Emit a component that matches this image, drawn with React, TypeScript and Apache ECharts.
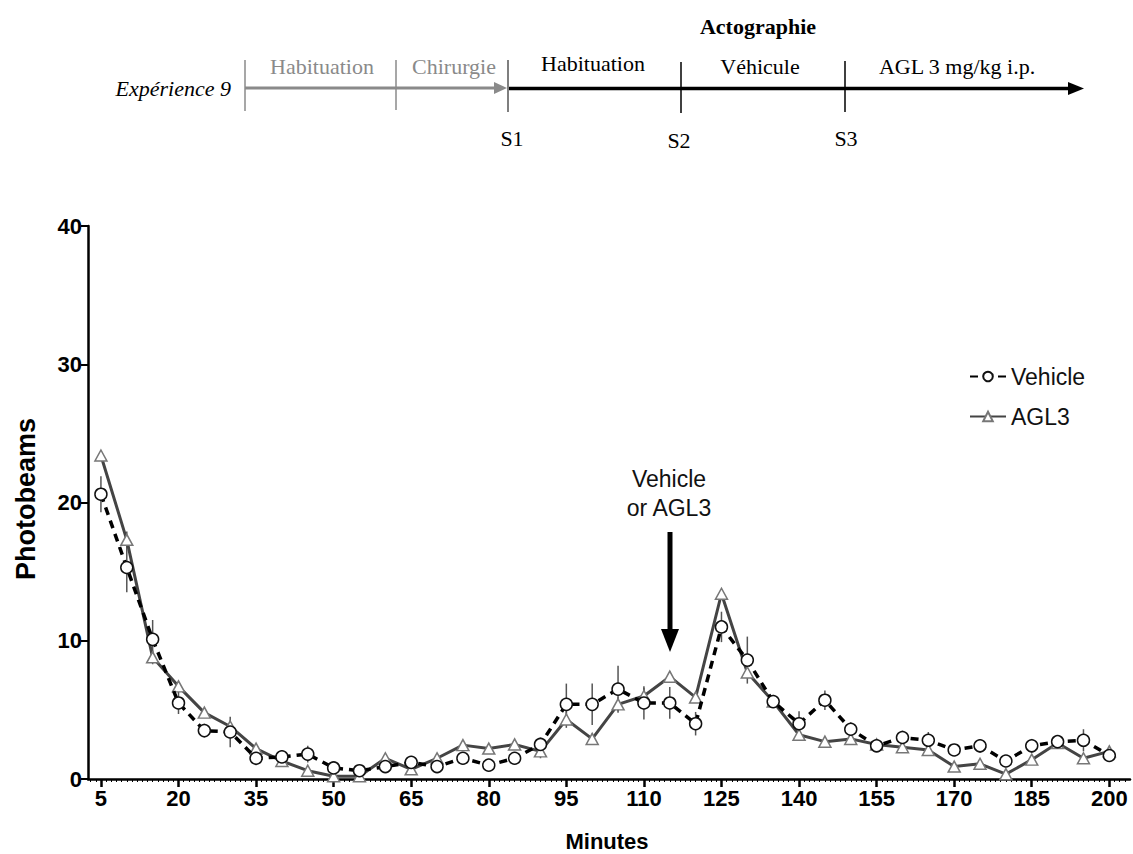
import React, { useEffect, useRef } from "react";
import * as echarts from "echarts";

const minutes = [5, 10, 15, 20, 25, 30, 35, 40, 45, 50, 55, 60, 65, 70, 75, 80, 85, 90, 95, 100, 105, 110, 115, 120, 125, 130, 135, 140, 145, 150, 155, 160, 165, 170, 175, 180, 185, 190, 195, 200];
const vehicle = [20.6, 15.3, 10.1, 5.5, 3.5, 3.4, 1.5, 1.6, 1.8, 0.8, 0.6, 0.9, 1.2, 0.9, 1.5, 1.0, 1.5, 2.5, 5.4, 5.4, 6.5, 5.5, 5.5, 4.0, 11.0, 8.6, 5.6, 4.0, 5.7, 3.6, 2.4, 3.0, 2.8, 2.1, 2.4, 1.3, 2.4, 2.7, 2.8, 1.7];
const vehicleSem = [1.3, 1.8, 1.4, 0.8, 0.5, 1.1, 0.5, 0.5, 0.6, 0.4, 0.3, 0.3, 0.4, 0.3, 0.4, 0.3, 0.3, 0.5, 1.5, 1.5, 1.7, 1.2, 1.15, 0.85, 1.1, 1.7, 0.4, 0.9, 0.7, 0.5, 0.3, 0.5, 0.6, 0.3, 0.5, 0.4, 0.5, 0.3, 0.8, 0.3];
const agl3 = [23.4, 17.3, 8.8, 6.7, 4.8, 3.8, 2.2, 1.3, 0.6, 0.2, 0.2, 1.5, 0.7, 1.5, 2.45, 2.2, 2.5, 2.0, 4.3, 2.9, 5.4, 6.0, 7.4, 5.9, 13.4, 7.7, 5.6, 3.2, 2.7, 2.9, 2.5, 2.3, 2.1, 0.9, 1.1, 0.35, 1.4, 2.6, 1.5, 2.0];
const agl3Sem = [0.3, 0.6, 0.5, 0.3, 0.3, 0.3, 0.3, 0.2, 0.2, 0.1, 0.1, 0.3, 0.2, 0.3, 0.3, 0.3, 0.3, 0.5, 0.6, 0.4, 0.5, 0.6, 0.4, 0.4, 0.3, 0.4, 0.3, 0.3, 0.3, 0.3, 0.3, 0.3, 0.3, 0.2, 0.2, 0.1, 0.3, 0.3, 0.3, 0.3];
const xTickLabels = [5, 20, 35, 50, 65, 80, 95, 110, 125, 140, 155, 170, 185, 200];
const seriesNames = ["Vehicle", "AGL3"];

const SANS = "'Liberation Sans', Arial, sans-serif";
const SERIF = "'Liberation Serif', 'Times New Roman', serif";
const GRAY = "#8a8a8a";

export default function App() {
  const ref = useRef<HTMLDivElement>(null);
  useEffect(() => {
    if (!ref.current) return;
    const chart = echarts.init(ref.current, null, { renderer: "svg" });
    const minorTicks: number[] = [];
    for (let m = 3; m <= 203; m++) minorTicks.push(m);

    const errData = (vals: number[], sem: number[]) =>
      minutes.map((m, i) => [m, vals[i] - sem[i], vals[i] + sem[i]]);

    const renderErr = (params: any, api: any) => {
      const xv = api.value(0);
      const lo = api.coord([xv, api.value(1)]);
      const hi = api.coord([xv, api.value(2)]);
      return {
        type: "line",
        shape: { x1: lo[0], y1: lo[1], x2: hi[0], y2: hi[1] },
        style: { stroke: "#555", lineWidth: 1.5 },
      };
    };

    const topText = (text: string, x: number, y: number, color: string, extra: any = {}) => ({
      type: "text",
      x,
      y,
      style: {
        text,
        fill: color,
        fontFamily: SERIF,
        fontSize: extra.size || 22,
        fontWeight: extra.weight || "normal",
        fontStyle: extra.style || "normal",
        align: extra.align || "center",
        verticalAlign: "middle",
      },
    });
    const vline = (x: number, y1: number, y2: number, color: string) => ({
      type: "line",
      shape: { x1: x, y1, x2: x, y2 },
      style: { stroke: color, lineWidth: 1.5 },
    });

    const option: any = {
      animation: false,
      grid: { left: 88, top: 226, right: 3, bottom: 75, containLabel: false },
      legend: {
        data: seriesNames,
        orient: "vertical",
        left: 964,
        top: 360,
        itemWidth: 36,
        itemHeight: 12,
        itemGap: 17,
        textStyle: { fontFamily: SANS, fontSize: 23, color: "#111" },
      },
      xAxis: [
        {
          type: "value",
          min: 2.5,
          max: 204,
          axisLine: { show: true, lineStyle: { color: "#000", width: 2.5 } },
          axisTick: { show: true, customValues: xTickLabels, length: 8, lineStyle: { color: "#000", width: 2.5 } },
          axisLabel: {
            customValues: xTickLabels,
            fontFamily: SANS,
            fontSize: 22,
            fontWeight: "bold",
            color: "#000",
            margin: 8,
          },
          splitLine: { show: false },
        },
        {
          type: "value",
          min: 2.5,
          max: 204,
          position: "bottom",
          offset: 0,
          axisLine: { show: false },
          axisTick: { show: true, customValues: minorTicks, length: 3, lineStyle: { color: "#000", width: 1 } },
          axisLabel: { show: false },
          splitLine: { show: false },
        },
      ],
      yAxis: {
        type: "value",
        min: 0,
        max: 40,
        interval: 10,
        axisLine: { show: true, lineStyle: { color: "#000", width: 2.5 } },
        axisTick: { show: true, length: 7, lineStyle: { color: "#000", width: 2 } },
        axisLabel: {
          fontFamily: SANS,
          fontSize: 22,
          fontWeight: "bold",
          color: "#000",
          margin: 6,
        },
        splitLine: { show: false },
      },
      series: [
        {
          type: "custom",
          name: "errVehicle",
          renderItem: renderErr,
          encode: { x: 0, y: [1, 2] },
          data: errData(vehicle, vehicleSem),
          z: 1,
          silent: true,
        },
        {
          type: "custom",
          name: "errAGL3",
          renderItem: renderErr,
          encode: { x: 0, y: [1, 2] },
          data: errData(agl3, agl3Sem),
          z: 1,
          silent: true,
        },
        {
          type: "line",
          name: "AGL3",
          data: minutes.map((m, i) => [m, agl3[i]]),
          symbol: "triangle",
          symbolSize: [12, 11],
          showAllSymbol: true,
          lineStyle: { color: "#444", width: 3 },
          itemStyle: { color: "#fff", borderColor: "#777", borderWidth: 1.5 },
          z: 2,
        },
        {
          type: "line",
          name: "Vehicle",
          data: minutes.map((m, i) => [m, vehicle[i]]),
          symbol: "circle",
          symbolSize: 12,
          showAllSymbol: true,
          lineStyle: { color: "#000", width: 3.5, type: [8, 6] },
          itemStyle: { color: "#fff", borderColor: "#111", borderWidth: 1.5 },
          z: 3,
        },
      ],
      graphic: [
        {
          type: "text",
          x: 26,
          y: 499,
          rotation: Math.PI / 2,
          style: {
            text: "Photobeams",
            fill: "#000",
            fontFamily: SANS,
            fontSize: 27,
            fontWeight: "bold",
            align: "center",
            verticalAlign: "middle",
          },
        },
        {
          type: "text",
          x: 607,
          y: 841,
          style: {
            text: "Minutes",
            fill: "#000",
            fontFamily: SANS,
            fontSize: 22,
            fontWeight: "bold",
            align: "center",
            verticalAlign: "middle",
          },
        },
        {
          type: "text",
          x: 669,
          y: 493,
          style: {
            text: "Vehicle\nor AGL3",
            fill: "#111",
            fontFamily: SANS,
            fontSize: 23,
            lineHeight: 29,
            align: "center",
            verticalAlign: "middle",
          },
        },
        { type: "rect", shape: { x: 667.5, y: 532, width: 5, height: 100 }, style: { fill: "#000" } },
        { type: "polygon", shape: { points: [[661, 629], [679, 629], [670, 652]] }, style: { fill: "#000" } },
        topText("Actographie", 758, 26, "#000", { weight: "bold", size: 22 }),
        topText("Expérience 9", 231, 88, "#000", { style: "italic", align: "right" }),
        topText("Habituation", 322, 66, GRAY),
        topText("Chirurgie", 454, 66, GRAY),
        topText("Habituation", 593, 63, "#000"),
        topText("Véhicule", 760, 66, "#000"),
        topText("AGL 3 mg/kg i.p.", 957, 66, "#000"),
        topText("S1", 512, 138, "#000"),
        topText("S2", 679, 140, "#000"),
        topText("S3", 846, 138, "#000"),
        { type: "line", shape: { x1: 245, y1: 88, x2: 498, y2: 88 }, style: { stroke: GRAY, lineWidth: 3 } },
        { type: "polygon", shape: { points: [[494, 82], [507, 88], [494, 94]] }, style: { fill: GRAY } },
        { type: "line", shape: { x1: 509, y1: 88.5, x2: 1072, y2: 88.5 }, style: { stroke: "#000", lineWidth: 3.5 } },
        { type: "polygon", shape: { points: [[1068, 82], [1084, 88.5], [1068, 95]] }, style: { fill: "#000" } },
        vline(245, 60, 111, GRAY),
        vline(396, 60, 110, GRAY),
        vline(508, 60, 112, "#555"),
        vline(681, 62, 113, "#000"),
        vline(845, 61, 112, "#000"),
      ],
    };
    chart.setOption(option);
    return () => chart.dispose();
  }, []);
  return (
    <div
      ref={ref}
      style={{ position: "absolute", left: 0, top: 0, width: 1133, height: 854, background: "#fff" }}
    />
  );
}
